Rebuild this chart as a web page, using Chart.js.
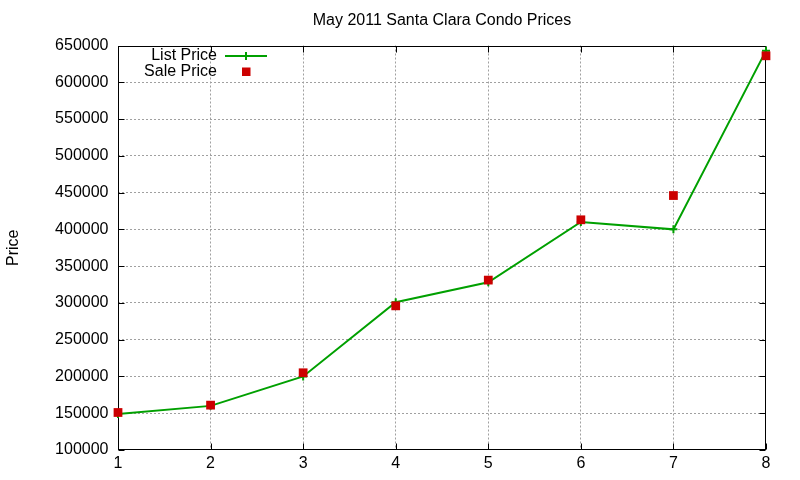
<!DOCTYPE html>
<html>
<head>
<meta charset="utf-8">
<script src="https://cdn.jsdelivr.net/npm/chart.js@4"></script>
<style>
html,body{margin:0;padding:0;background:#fff;}
canvas{display:block;}
</style>
</head>
<body>
<canvas id="c" width="800" height="480"></canvas>
<script>
const titleText = 'May 2011 Santa Clara Condo Prices';
const yTitle = 'Price';
const categories = [1, 2, 3, 4, 5, 6, 7, 8];
const listPrice = [149000, 160000, 200000, 301000, 328000, 410000, 400000, 643000];
const salePrice = [151000, 161000, 205000, 296000, 331000, 413000, 446000, 636000];
const yMin = 100000, yMax = 650000, yStep = 50000;

const GREEN = '#00a000';
const RED = '#cc0000';
const FONT = '"Liberation Sans", Arial, sans-serif';
const FS = 16;

const framePlugin = {
  id: 'frame',
  beforeDatasetsDraw(chart) {
    const ctx = chart.ctx, a = chart.chartArea;
    const L = Math.round(a.left) + 0.5, R = Math.round(a.right) - 0.5;
    const T = Math.round(a.top) + 0.5, B = Math.round(a.bottom) - 0.5;
    const tl = 6;
    ctx.save();
    ctx.strokeStyle = '#000';
    ctx.lineWidth = 1;
    ctx.setLineDash([]);
    ctx.beginPath();
    chart.scales.x.ticks.forEach(t => {
      const px = Math.round(chart.scales.x.getPixelForValue(t.value)) + 0.5;
      ctx.moveTo(px, B); ctx.lineTo(px, B - tl);
      ctx.moveTo(px, T); ctx.lineTo(px, T + tl);
    });
    chart.scales.y.ticks.forEach(t => {
      const py = Math.round(chart.scales.y.getPixelForValue(t.value)) + 0.5;
      ctx.moveTo(L, py); ctx.lineTo(L + tl, py);
      ctx.moveTo(R, py); ctx.lineTo(R - tl, py);
    });
    ctx.stroke();
    ctx.strokeRect(L, T, R - L, B - T);
    ctx.restore();
  },
  afterDraw(chart) {
    const ctx = chart.ctx;
    ctx.save();
    ctx.font = FS + 'px ' + FONT;
    ctx.textAlign = 'right';
    ctx.textBaseline = 'middle';
    chart.data.datasets.forEach((ds, i) => {
      const y = 56 + i * 15.5;
      ctx.fillStyle = '#000';
      ctx.fillText(ds.label, 217, y);
      const sx = 246;
      if (ds.showLine !== false) {
        ctx.strokeStyle = ds.borderColor;
        ctx.lineWidth = 2;
        ctx.beginPath();
        ctx.moveTo(225, y); ctx.lineTo(267, y);
        ctx.moveTo(sx, y - 4); ctx.lineTo(sx, y + 4);
        ctx.stroke();
      } else {
        ctx.fillStyle = ds.pointBackgroundColor;
        ctx.fillRect(sx - 4, y - 4, 8.5, 8.5);
      }
    });
    ctx.restore();
  }
};

const gridColor = (ctx) => {
  const s = ctx.scale;
  if (ctx.tick && (ctx.tick.value === s.min || ctx.tick.value === s.max)) return 'rgba(0,0,0,0)';
  return '#a0a0a0';
};

new Chart(document.getElementById('c'), {
  type: 'line',
  data: {
    datasets: [
      {
        label: 'List Price',
        order: 2,
        data: categories.map((c, i) => ({x: c, y: listPrice[i]})),
        borderColor: GREEN,
        borderWidth: 2,
        pointStyle: 'cross',
        pointRadius: 4,
        pointBorderWidth: 2,
        pointBorderColor: GREEN,
        pointBackgroundColor: GREEN,
        tension: 0,
        fill: false,
        clip: false
      },
      {
        label: 'Sale Price',
        order: 1,
        data: categories.map((c, i) => ({x: c, y: salePrice[i]})),
        showLine: false,
        pointStyle: 'rect',
        pointRadius: 6.2,
        pointBorderWidth: 0,
        pointBackgroundColor: RED,
        pointBorderColor: RED,
        borderColor: RED,
        backgroundColor: RED,
        clip: false
      }
    ]
  },
  options: {
    responsive: false,
    animation: false,
    devicePixelRatio: 1,
    layout: {padding: {left: 0, right: 34, top: 0, bottom: 0}},
    plugins: {
      legend: {display: false},
      tooltip: {enabled: false},
      title: {
        display: true,
        text: titleText,
        fullSize: false,
        color: '#000',
        font: {family: FONT, size: FS, weight: 'normal'},
        padding: {top: 11, bottom: 15.3}
      }
    },
    scales: {
      x: {
        type: 'linear',
        min: 1, max: 8,
        ticks: {stepSize: 1, color: '#000', font: {family: FONT, size: FS}, padding: 4},
        grid: {color: gridColor, lineWidth: 1, drawTicks: false},
        border: {display: false, dash: [2, 2]},
        afterFit(s) { s.height = 30; }
      },
      y: {
        min: yMin, max: yMax,
        ticks: {stepSize: yStep, color: '#000', font: {family: FONT, size: FS}, padding: 9.5,
          callback: v => String(v)},
        grid: {color: gridColor, lineWidth: 1, drawTicks: false},
        border: {display: false, dash: [2, 2]},
        title: {display: true, text: yTitle, color: '#000', font: {family: FONT, size: FS}, padding: {top: 4, bottom: 0}},
        afterFit(s) { s.width = 118; }
      }
    }
  },
  plugins: [framePlugin]
});
</script>
</body>
</html>
